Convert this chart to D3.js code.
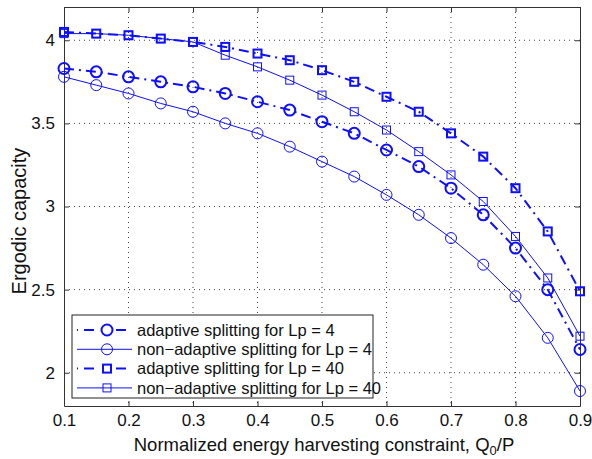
<!DOCTYPE html>
<html>
<head>
<meta charset="utf-8">
<script src="https://cdn.jsdelivr.net/npm/d3@7"></script>
<style>
  body { margin: 0; background: #fff; }
  svg { font-family: "Liberation Sans", Arial, sans-serif; }
</style>
</head>
<body>
<div class="chart"></div>
<script>
// x values (normalized energy harvesting constraint Q0/P)
var xVals = [0.1, 0.15, 0.2, 0.25, 0.3, 0.35, 0.4, 0.45, 0.5, 0.55, 0.6, 0.65, 0.7, 0.75, 0.8, 0.85, 0.9];

var adaptiveLp4 = [3.83, 3.81, 3.78, 3.75, 3.72, 3.68, 3.63, 3.58, 3.51, 3.44, 3.34, 3.24, 3.11, 2.95, 2.75, 2.50, 2.14];
var nonAdaptiveLp4 = [3.78, 3.73, 3.68, 3.62, 3.57, 3.50, 3.44, 3.36, 3.27, 3.18, 3.07, 2.95, 2.81, 2.65, 2.46, 2.21, 1.89];
var adaptiveLp40 = [4.05, 4.04, 4.03, 4.01, 3.99, 3.96, 3.92, 3.88, 3.82, 3.75, 3.66, 3.57, 3.44, 3.30, 3.11, 2.85, 2.49];
var nonAdaptiveLp40 = [4.04, 4.04, 4.03, 4.01, 3.99, 3.91, 3.84, 3.76, 3.67, 3.57, 3.46, 3.33, 3.19, 3.03, 2.82, 2.57, 2.22];

var xTicks = [0.1, 0.2, 0.3, 0.4, 0.5, 0.6, 0.7, 0.8, 0.9];
var yTicks = [2, 2.5, 3, 3.5, 4];

var seriesNames = [
  "adaptive splitting for Lp = 4",
  "non\u2212adaptive splitting for Lp = 4",
  "adaptive splitting for Lp = 40",
  "non\u2212adaptive splitting for Lp = 40"
];

var series = [
  { name: seriesNames[0], values: adaptiveLp4, marker: "circle", adaptive: true },
  { name: seriesNames[1], values: nonAdaptiveLp4, marker: "circle", adaptive: false },
  { name: seriesNames[2], values: adaptiveLp40, marker: "square", adaptive: true },
  { name: seriesNames[3], values: nonAdaptiveLp40, marker: "square", adaptive: false }
];

var svgWidth = 592, svgHeight = 459;
var margin = { top: 7, right: 12, bottom: 53, left: 64 };
var width = svgWidth - margin.left - margin.right;
var height = svgHeight - margin.top - margin.bottom;
var blue = "#0f0fff";

var svg = d3.select(".chart").append("svg")
  .attr("width", svgWidth)
  .attr("height", svgHeight);

var chart = svg.append("g")
  .attr("transform", "translate(" + margin.left + "," + margin.top + ")");

var xScale = d3.scaleLinear().domain([0.1, 0.9]).range([0, width]);
var yScale = d3.scaleLinear().domain([1.8, 4.2]).range([height, 0]);

// grid
chart.append("g").selectAll("line")
  .data(xTicks.slice(1, -1))
  .enter().append("line")
  .attr("x1", function(d) { return xScale(d); })
  .attr("x2", function(d) { return xScale(d); })
  .attr("y1", 0).attr("y2", height)
  .attr("stroke", "#444").attr("stroke-width", 1)
  .attr("stroke-dasharray", "1,4");

chart.append("g").selectAll("line")
  .data(yTicks)
  .enter().append("line")
  .attr("y1", function(d) { return yScale(d); })
  .attr("y2", function(d) { return yScale(d); })
  .attr("x1", 0).attr("x2", width)
  .attr("stroke", "#444").attr("stroke-width", 1)
  .attr("stroke-dasharray", "1,4");

// axes (inward ticks, box)
var bottomAxis = d3.axisBottom(xScale).tickValues(xTicks).tickSizeInner(-5).tickSizeOuter(0).tickPadding(8)
  .tickFormat(d3.format(".1f"));
var topAxis = d3.axisTop(xScale).tickValues(xTicks).tickSizeInner(-5).tickSizeOuter(0).tickFormat("");
var leftAxis = d3.axisLeft(yScale).tickValues(yTicks).tickSizeInner(-5).tickSizeOuter(0).tickPadding(9)
  .tickFormat(function(d) { return d3.format("")(d); });
var rightAxis = d3.axisRight(yScale).tickValues(yTicks).tickSizeInner(-5).tickSizeOuter(0).tickFormat("");

var axes = [
  chart.append("g").attr("transform", "translate(0," + height + ")").call(bottomAxis),
  chart.append("g").call(topAxis),
  chart.append("g").call(leftAxis),
  chart.append("g").attr("transform", "translate(" + width + ",0)").call(rightAxis)
];
axes.forEach(function(a) {
  a.select(".domain").attr("stroke", "#333");
  a.selectAll(".tick line").attr("stroke", "#333");
  a.selectAll("text").attr("fill", "#111").style("font-size", "17px");
});

// lines and markers
var line = d3.line()
  .x(function(d, i) { return xScale(xVals[i]); })
  .y(function(d) { return yScale(d); });

function drawMarker(g, type, cx, cy, adaptive) {
  if (type === "circle") {
    g.append("circle").attr("cx", cx).attr("cy", cy).attr("r", 5.5)
      .attr("fill", "none").attr("stroke", blue).attr("stroke-width", adaptive ? 2 : 1);
  } else {
    var s = 8;
    g.append("rect").attr("x", cx - s / 2).attr("y", cy - s / 2).attr("width", s).attr("height", s)
      .attr("fill", "none").attr("stroke", blue).attr("stroke-width", adaptive ? 2 : 1);
  }
}

series.forEach(function(s) {
  chart.append("path")
    .datum(s.values)
    .attr("d", line)
    .attr("fill", "none")
    .attr("stroke", blue)
    .attr("stroke-width", s.adaptive ? 2 : 1)
    .attr("stroke-dasharray", s.adaptive ? "10,5,2,5" : null);
  var mg = chart.append("g");
  s.values.forEach(function(v, i) {
    drawMarker(mg, s.marker, xScale(xVals[i]), yScale(v), s.adaptive);
  });
});

// legend
var legend = chart.append("g").attr("transform", "translate(8,308)");
legend.append("rect").attr("width", 301).attr("height", 83)
  .attr("fill", "#fff").attr("stroke", "#222").attr("stroke-width", 1);

series.forEach(function(s, i) {
  var ly = 15 + i * 19.3;
  var row = legend.append("g");
  row.append("line").attr("x1", 5).attr("x2", 60).attr("y1", ly).attr("y2", ly)
    .attr("stroke", blue).attr("stroke-width", s.adaptive ? 2 : 1)
    .attr("stroke-dasharray", s.adaptive ? "1,6,10,22,10,6,1" : null);
  drawMarker(row, s.marker, 35, ly, s.adaptive);
  row.append("text").attr("x", 65).attr("y", ly).attr("dy", "0.35em")
    .style("font-size", "16.5px").attr("fill", "#111").text(s.name);
});

// axis labels
var xl = svg.append("text")
  .attr("x", margin.left + width / 2 + 2).attr("y", 451)
  .attr("text-anchor", "middle")
  .style("font-size", "18.5px").attr("fill", "#111");
xl.append("tspan").text("Normalized energy harvesting constraint, Q");
xl.append("tspan").attr("dy", "4").style("font-size", "13px").text("0");
xl.append("tspan").attr("dy", "-4").text("/P");

svg.append("text")
  .attr("transform", "translate(19,221) rotate(-90)")
  .attr("text-anchor", "middle").attr("dy", "0.35em")
  .style("font-size", "20px").attr("fill", "#111")
  .text("Ergodic capacity");
</script>
</body>
</html>
